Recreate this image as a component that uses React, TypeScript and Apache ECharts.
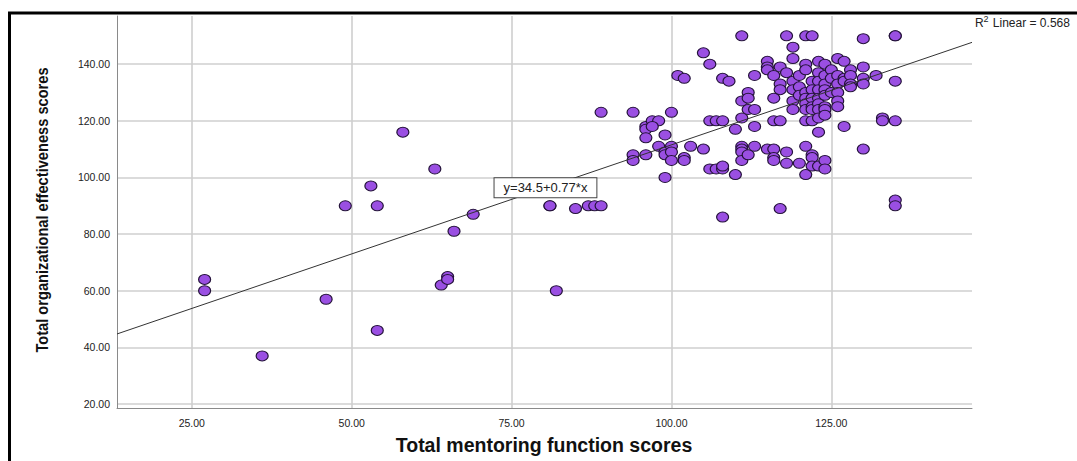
import React, { useEffect, useRef } from "react";
import * as echarts from "echarts";

// Total mentoring function scores (x) paired with total organizational effectiveness scores (y)
const mentoring = [
  27, 27, 36, 46, 49, 53, 54, 54, 58, 63, 64, 65, 65, 66, 69, 81, 81, 82, 85, 87,
  88, 89, 89, 94, 94, 94, 96, 96, 96, 96, 97, 98, 97, 98, 99, 99, 99, 99, 100, 100,
  100, 100, 101, 102, 102, 102, 103, 105, 105, 106, 106, 107, 108, 106, 107, 108, 108, 108, 108, 109,
  110, 110, 111, 111, 111, 111, 111, 111, 111, 112, 112, 112, 112, 113, 113, 113, 113, 115, 115, 115,
  115, 116, 116, 116, 116, 116, 116, 117, 117, 117, 117, 117, 118, 118, 118, 118, 119, 119, 119, 119,
  119, 119, 120, 120, 120, 120, 121, 121, 121, 121, 121, 121, 121, 121, 121, 121, 122, 122, 122, 122,
  122, 122, 122, 122, 122, 122, 123, 123, 123, 123, 123, 123, 123, 123, 123, 123, 124, 124, 124, 124,
  124, 124, 124, 124, 124, 124, 125, 125, 125, 126, 126, 126, 126, 126, 126, 127, 127, 127, 127, 128,
  128, 128, 128, 130, 130, 130, 130, 130, 132, 133, 133, 135, 135, 135, 135, 135, 135,
];
const effectiveness = [
  64, 60, 37, 57, 90, 97, 90, 46, 116, 103, 62, 65, 64, 81, 87, 90, 90, 60, 89, 90,
  90, 90, 123, 123, 108, 106, 118, 117, 114, 108, 120, 120, 118, 111, 115, 109, 108, 100, 123, 111,
  109, 106, 136, 135, 107, 106, 111, 144, 110, 140, 120, 120, 120, 103, 103, 103, 104, 86, 135, 134,
  117, 101, 150, 127, 121, 111, 110, 109, 106, 108, 130, 128, 124, 124, 136, 118, 111, 141, 139, 138,
  110, 110, 136, 128, 120, 107, 106, 139, 133, 131, 120, 89, 150, 137, 109, 105, 146, 142, 134, 131,
  127, 124, 136, 132, 129, 105, 150, 140, 138, 130, 128, 126, 124, 120, 111, 101, 150, 134, 131, 128,
  125, 124, 120, 108, 107, 104, 141, 137, 134, 131, 128, 126, 124, 121, 116, 104, 140, 136, 133, 131,
  129, 125, 124, 122, 106, 103, 138, 135, 130, 142, 136, 133, 130, 127, 125, 141, 135, 134, 118, 138,
  136, 133, 132, 149, 139, 135, 133, 110, 136, 121, 120, 150, 150, 134, 120, 92, 90,
];

const xTicks = [25, 50, 75, 100, 125];
const yTicks = [20, 40, 60, 80, 100, 120, 140];

const INTERCEPT = 34.5;
const SLOPE = 0.77;
const R2 = "0.568";
const EQ_X = 80.3;

const X_MIN = 13.3;
const X_MAX = 147;
const Y_MIN = 18.6;
const Y_MAX = 157;

const sans = "'Liberation Sans', Arial, sans-serif";

export default function App() {
  const ref = useRef<HTMLDivElement>(null);

  useEffect(() => {
    document.body.style.margin = "0";
    const chart = echarts.init(ref.current!, null, { renderer: "svg" });
    const points = mentoring.map((x, i) => [x, effectiveness[i]]);
    const fitLine = [X_MIN, X_MAX].map((x) => [x, INTERCEPT + SLOPE * x]);

    chart.setOption({
      animation: false,
      backgroundColor: "#ffffff",
      grid: { left: 117, right: 105, top: 16, bottom: 53, containLabel: false },
      xAxis: {
        type: "value",
        min: X_MIN,
        max: X_MAX,
        axisLine: { show: true, onZero: false, lineStyle: { color: "#8a8a8a", width: 1 } },
        axisTick: { show: false, customValues: xTicks },
        axisLabel: {
          customValues: xTicks,
          formatter: (v: number) => v.toFixed(2),
          fontSize: 10.5,
          fontFamily: sans,
          color: "#222",
          margin: 9,
        },
        splitLine: { show: true, lineStyle: { color: "#cfcfcf", width: 1.6 } },
      },
      yAxis: {
        type: "value",
        min: Y_MIN,
        max: Y_MAX,
        axisLine: { show: true, onZero: false, lineStyle: { color: "#8a8a8a", width: 1 } },
        axisTick: { show: false, customValues: yTicks },
        axisLabel: {
          customValues: yTicks,
          formatter: (v: number) => v.toFixed(2),
          fontSize: 10.5,
          fontFamily: sans,
          color: "#222",
          margin: 7,
        },
        splitLine: { show: true, lineStyle: { color: "#cfcfcf", width: 1.6 } },
      },
      series: [
        {
          type: "scatter",
          data: points,
          symbol: "path://M1,0A1,1 0 1,1 -1,0A1,1 0 1,1 1,0Z",
          symbolSize: [12, 10],
          itemStyle: { color: "#9a4fe2", borderColor: "#24133a", borderWidth: 1.1, opacity: 1 },
          z: 2,
        },
        {
          type: "line",
          data: fitLine,
          showSymbol: false,
          symbol: "none",
          lineStyle: { color: "#333", width: 1 },
          z: 3,
          markPoint: {
            symbol: "rect",
            symbolSize: 0,
            data: [{ coord: [EQ_X, INTERCEPT + SLOPE * EQ_X] }],
            label: {
              show: true,
              position: "inside",
              formatter: `y=${INTERCEPT}+${SLOPE}*x`,
              fontSize: 13,
              fontFamily: sans,
              color: "#222",
              backgroundColor: "#fff",
              borderColor: "#444",
              borderWidth: 1,
              padding: [3, 9],
            },
          },
        },
      ],
      graphic: [
        {
          type: "rect",
          silent: true,
          shape: { x: 9.5, y: 13, width: 1200, height: 600 },
          style: { fill: "none", stroke: "#000", lineWidth: 3 },
          z: 100,
        },
        {
          type: "text",
          x: 42,
          y: 210,
          rotation: Math.PI / 2,
          scaleX: 0.915,
          style: {
            text: "Total organizational effectiveness scores",
            fontSize: 16,
            fontWeight: "bold",
            fontFamily: sans,
            fill: "#111",
            align: "center",
            verticalAlign: "middle",
          },
        },
        {
          type: "text",
          x: 544,
          y: 445,
          style: {
            text: "Total mentoring function scores",
            fontSize: 19.5,
            fontWeight: "bold",
            fontFamily: sans,
            fill: "#111",
            align: "center",
            verticalAlign: "middle",
          },
        },
        {
          type: "text",
          x: 975,
          y: 23,
          style: { text: "R", fontSize: 12, fontFamily: sans, fill: "#222", align: "left", verticalAlign: "middle" },
        },
        {
          type: "text",
          x: 983.5,
          y: 19,
          style: { text: "2", fontSize: 9, fontFamily: sans, fill: "#222", align: "left", verticalAlign: "middle" },
        },
        {
          type: "text",
          x: 989.5,
          y: 23,
          style: {
            text: ` Linear = ${R2}`,
            fontSize: 12,
            fontFamily: sans,
            fill: "#222",
            align: "left",
            verticalAlign: "middle",
          },
        },
      ],
    });

    return () => chart.dispose();
  }, []);

  return <div ref={ref} style={{ width: 1077, height: 461 }} />;
}
